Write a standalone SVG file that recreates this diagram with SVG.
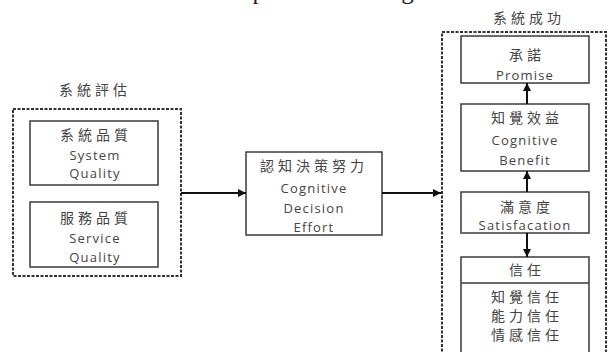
<svg xmlns="http://www.w3.org/2000/svg" width="610" height="352" viewBox="0 0 610 352">
<defs>
<style>
.box{fill:#fff;stroke:#3a3a3a;stroke-width:1.5}
.grp{fill:none;stroke:#333;stroke-width:2;stroke-dasharray:3 1.5}
.cjk{font-family:"Noto Sans CJK TC","Noto Sans CJK SC",sans-serif;font-size:14px;letter-spacing:4px;fill:#444;text-anchor:middle}
.en{font-family:"Open Sans","Liberation Sans",sans-serif;font-size:13px;letter-spacing:1.2px;fill:#444;text-anchor:middle}
.edge{stroke:#111;stroke-width:2;fill:none}
</style>
<marker id="ah" viewBox="0 0 10 10" refX="10" refY="5" markerWidth="4" markerHeight="4" orient="auto" markerUnits="strokeWidth">
<path d="M0,0 L10,5 L0,10 z" fill="#111"/>
</marker>
</defs>
<rect width="610" height="352" fill="#fff"/>
<text x="2" y="-1" font-family="'Liberation Serif',serif" font-size="25" fill="#222">The research framework presented in Figure 1.</text>

<g id="group-eval">
<text class="cjk" x="95" y="95">系統評估</text>
<rect class="grp" x="13" y="109" width="168" height="167"/>
</g>
<g id="node-system-quality">
<rect class="box" x="30" y="121" width="128" height="64"/>
<text class="cjk" x="96" y="140">系統品質</text>
<text class="en" x="95" y="160">System</text>
<text class="en" x="95" y="178">Quality</text>
</g>
<g id="node-service-quality">
<rect class="box" x="30" y="202" width="128" height="65"/>
<text class="cjk" x="96" y="223">服務品質</text>
<text class="en" x="95" y="243">Service</text>
<text class="en" x="95" y="262">Quality</text>
</g>
<g id="node-cde">
<rect class="box" x="246" y="152" width="136" height="83"/>
<text class="cjk" x="314" y="171">認知決策努力</text>
<text class="en" x="314" y="193">Cognitive</text>
<text class="en" x="314" y="213">Decision</text>
<text class="en" x="314" y="232">Effort</text>
</g>

<g id="group-success">
<text class="cjk" x="529" y="23">系統成功</text>
<rect class="grp" x="442" y="32" width="164" height="340"/>
</g>
<g id="node-promise">
<rect class="box" x="461" y="36" width="128" height="47"/>
<text class="cjk" x="527" y="60">承諾</text>
<text class="en" x="525" y="80">Promise</text>
</g>
<g id="node-benefit">
<rect class="box" x="461" y="104" width="128" height="67"/>
<text class="cjk" x="527" y="123">知覺效益</text>
<text class="en" x="525" y="145">Cognitive</text>
<text class="en" x="525" y="165">Benefit</text>
</g>
<g id="node-satisfaction">
<rect class="box" x="461" y="192" width="128" height="41"/>
<text class="cjk" x="527" y="212">滿意度</text>
<text class="en" x="525" y="230">Satisfacation</text>
</g>
<g id="node-trust">
<rect class="box" x="461" y="257" width="128" height="110"/>
<line x1="461" y1="283" x2="589" y2="283" stroke="#3a3a3a" stroke-width="1.5"/>
<text class="cjk" x="527" y="275">信任</text>
<text class="cjk" x="527" y="302">知覺信任</text>
<text class="cjk" x="527" y="321">能力信任</text>
<text class="cjk" x="527" y="340">情感信任</text>
</g>

<g id="connectors">
<line class="edge" x1="181" y1="193" x2="246" y2="193" marker-end="url(#ah)"/>
<line class="edge" x1="382" y1="193" x2="441" y2="193" marker-end="url(#ah)"/>
<line class="edge" x1="527" y1="104" x2="527" y2="83" marker-end="url(#ah)"/>
<line class="edge" x1="527" y1="192" x2="527" y2="171" marker-end="url(#ah)"/>
<line class="edge" x1="527" y1="233" x2="527" y2="257" marker-end="url(#ah)"/>
</g>
</svg>
